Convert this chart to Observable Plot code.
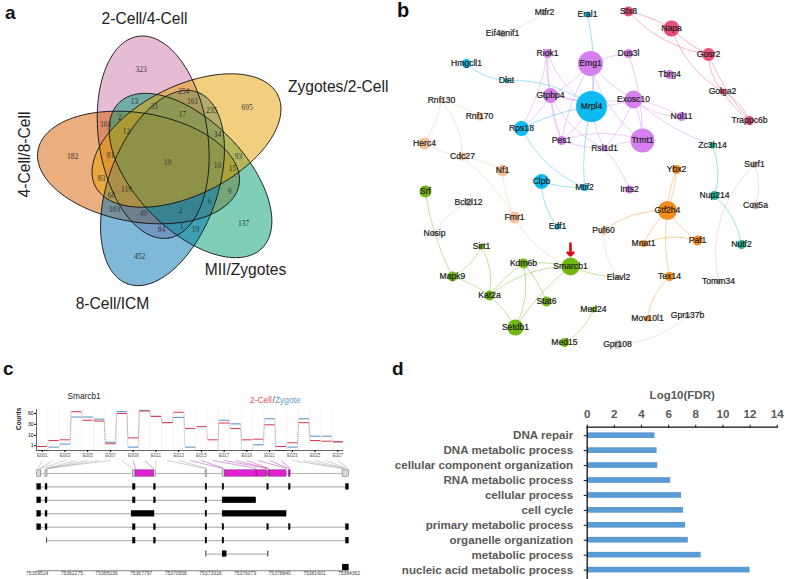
<!DOCTYPE html>
<html><head><meta charset="utf-8">
<script src="https://cdn.jsdelivr.net/npm/d3@7"></script>
<script src="https://cdn.jsdelivr.net/npm/@observablehq/plot@0.6"></script>
<style>
html,body{margin:0;padding:0;background:#fff}
#root{position:relative;width:785px;height:579px;overflow:hidden;font-family:"Liberation Sans",Arial,sans-serif}
#root>svg,#root>figure{position:absolute;margin:0}
.t{position:absolute;white-space:nowrap;line-height:1}
</style></head><body><div id="root"></div>
<script>
const FONT='"Liberation Sans",Arial,sans-serif';
// ---------- a: Venn ----------
const vennNames=["2-Cell/4-Cell","4-Cell/8-Cell","MII/Zygotes","8-Cell/ICM","Zygotes/2-Cell"];
const vennColors=["#cc79a7","#d55e00","#009e73","#0072b2","#e69f00"];
const vennCx=[152.7,138,190,162,186];
const vennCy=[136.7,167,175,187.5,140];
const vennA=[102,102,102,102,102];
const vennB=[54.5,54.5,54.5,54.5,54.5];
const vennTilt=[81.5,9.5,45.5,110,-26.5];
const vennCounts=["323","254","13","31","161","235","695","17","2","104","12","34","182","81","93","19","10","15","83","119","9","60","6","103","49","2","137","1","84","19","452"];
const vennCountX=[140.7,183,134,154,192,211,246.7,182,119,105,126,217,72,110,238,167,217,232,101,126,229,111,209,114,143,180,243,181,161,195,139];
const vennCountY=[69.3,90.7,101,106,100.7,110,107,114,117,124,131,134,156,155,156,162,165,168,178,189,191,195,201,209,213,210,223,226,229,229,256];
const vennLabelX=[144,24,245,112,337.7];
const vennLabelY=[18,154,269,303,86.7];
const vennLabelRot=[0,-90,0,0,0];
// ---------- b: network ----------
const nodeNames=["Mtfr2","Eif4enif1","Eral1","Stx8","Napa","Gosr2","Golga2","Trappc6b","Riok1","Emg1","Dus3l","Tbrg4","Hmgcll1","Dlat","Gtpbp4","Mrpl4","Exosc10","Nol11","Rnf130","Rnf170","Rps18","Pes1","Trmt1","Rsl1d1","Zc3h14","Herc4","Cdc27","Nf1","Ybx2","Surf1","Clpb","Mtif2","Ints2","Srf","Bcl2l12","Nup214","Cox5a","Gtf2h4","Fmr1","Edf1","Puf60","Nosip","Mnat1","Paf1","Nutf2","Sirt1","Kdm6b","Smarcb1","Mapk9","Elavl2","Tex14","Tomm34","Kat2a","Stat6","Med24","Gpr137b","Mov10l1","Setdb1","Med15","Gpr108"];
const nodeX=[544,502,587,628,671,708,722,749,547,590,628,669,466,506,550,591,633,681,441,479,521,561,642,604,712,424,462,502,676,754,541,584,629,425,468,714,755,667,514,557,603,434,643,697,741,481,523,570,452,618,669,718,489,546,593,687,647,515,564,617];
const nodeY=[12,33,14,11,28,54,91,120,53,63,53,74,63,80,95,106,99,116,100,116,128,140,140,148,145,143,156,170,169,164,181,187,189,191,202,195,205,210,217,226,230,233,243,240,244,246,263,266,276,277,276,281,295,301,309,315,318,327,342,344];
const nodeSize=[3,4,3,5,8,6.5,3,4.5,4.5,12.5,4.5,4.5,4.5,2.5,7.5,15.5,9,4.5,2.5,4,7.5,4.5,12,3,3,6,4,6,4.5,3.5,7.5,3.5,4,6,4,4.5,4,9.5,6,3,4,3,3.5,5,4.5,3,5,9,5,2.5,4.5,3,5,5,3,3,3,8,4.5,4.5];
const nodeModule=["grey","grey","cyan","red","red","red","red","red","purple","purple","purple","purple","cyan","cyan","purple","cyan","purple","purple","peach","peach","cyan","purple","purple","purple","teal","peach","peach","peach","orange","taupe","cyan","cyan","purple","green","grey","teal","taupe","orange","peach","cyan","peach","grey","orange","orange","teal","green","green","green","green","taupe","orange","taupe","green","green","green","grey","orange","green","green","grey"];
const moduleNames=["purple","cyan","red","peach","green","orange","teal","grey","taupe"];
const moduleColors=["#d580ee","#0cbcf0","#ea4f7a","#f3c49a","#70b810","#f58c1c","#1db8a0","#c8c8c8","#d0bcb8"];
const edgeList=[["Mtfr2","Eif4enif1",10],["Eral1","Mrpl4",10],["Stx8","Napa",10],["Stx8","Gosr2",-20],["Napa","Gosr2",-10],["Napa","Golga2",-20],["Gosr2","Golga2",-20],["Gosr2","Trappc6b",-10],["Golga2","Trappc6b",20],["Golga2","Trappc6b",-10],
["Hmgcll1","Dlat",-20],["Dlat","Mrpl4",20],["Riok1","Gtpbp4",-10],["Riok1","Mrpl4",-20],["Riok1","Pes1",-10],["Riok1","Rps18",10],["Emg1","Gtpbp4",10],["Emg1","Mrpl4",10],["Emg1","Exosc10",-10],["Emg1","Pes1",-10],["Emg1","Trmt1",-20],["Emg1","Dus3l",10],["Dus3l","Trmt1",10],
["Exosc10","Mrpl4",10],["Exosc10","Nol11",-20],["Exosc10","Nol11",10],["Exosc10","Trmt1",10],["Exosc10","Gtpbp4",10],["Exosc10","Rsl1d1",10],["Gtpbp4","Pes1",-10],["Gtpbp4","Rsl1d1",-20],["Gtpbp4","Mrpl4",10],["Pes1","Rsl1d1",-10],["Pes1","Trmt1",20],["Pes1","Mrpl4",-10],["Rsl1d1","Mrpl4",10],["Rsl1d1","Trmt1",10],["Rsl1d1","Ints2",10],
["Rps18","Mrpl4",10],["Gtpbp4","Rps18",10],["Rps18","Mtif2",-20],["Mrpl4","Mtif2",-10],["Clpb","Mtif2",-10],["Clpb","Edf1",-20],["Exosc10","Zc3h14",-10],["Zc3h14","Nup214",20],["Nup214","Nutf2",20],
["Rnf130","Rnf170",10],["Rnf130","Herc4",10],["Rnf130","Cdc27",20],["Herc4","Cdc27",-10],["Cdc27","Nf1",10],["Cdc27","Fmr1",10],["Nf1","Fmr1",-10],["Fmr1","Smarcb1",-20],
["Ybx2","Gtf2h4",-10],["Ybx2","Gtf2h4",10],["Gtf2h4","Mnat1",-10],["Gtf2h4","Paf1",-10],["Mnat1","Paf1",20],["Gtf2h4","Tex14",-10],["Gtf2h4","Puf60",-20],["Puf60","Elavl2",-20],["Tex14","Mov10l1",-20],
["Srf","Mapk9",-10],["Mapk9","Kat2a",10],["Bcl2l12","Nosip",-20],["Sirt1","Mapk9",20],["Sirt1","Kat2a",20],["Kat2a","Kdm6b",10],["Kat2a","Smarcb1",20],["Kat2a","Setdb1",10],["Kdm6b","Setdb1",20],["Kdm6b","Smarcb1",10],["Smarcb1","Setdb1",-10],["Kdm6b","Stat6",10],["Smarcb1","Elavl2",-10],["Med24","Med15",20],["Gpr137b","Gpr108",20],["Surf1","Cox5a",20],["Surf1","Tomm34",-30]];
const bendValues=[-30,-20,-10,10,20];
// ---------- c: exon counts ----------
const exonIndex=d3.range(1,28);
const count2Cell=[0.7,4.4,5,65.8,40,38,2,60,7,69,51,34,64,21,25,5,33,21,5,5.6,29,0.7,2.6,34,4.4,3.8,3.3];
const countZygote=[0,0.5,1.8,49,49,43,3,66,0.5,69,51,34,48,0.5,0,0,40,31,0,1.4,44,0,0.5,44,9,9,3.3];
const countTicks=[1,10,30,60];
const genomeStart=75359514, genomeEnd=75384362;
const genomeTicks=[75359514,75362275,75365036,75367797,75370558,75373318,75376079,75378840,75381601,75384362];
// exon edges, bp after genomeStart
const xA=[0,319],xB=[664,824],xC=[7626,7838],xD=[9300,9459],xE=[13418,13551],xF=[14773,14906],xG=[18333,18466],xH=[20060,20193],xI=[24603,24848];
const transcripts=[
 [xA,xB,xC,xD,xE,xF,xG,xH,xI],
 [xA,xB,xC,xD,xE,[14773,17456]],
 [xA,xB,[7520,9350],xE,[14773,19874]],
 [xA,xB,xC,xD,xE,xF,xG,xH,xI],
 [[770,810],xC,xD,xE,xF,xI],
 [[13470,13500],[14773,15100],[18400,18440]],
 [[24340,24848]]];
const modelGrey=[xA,xB,[7626,7838],[9300,9459],xE,[14773,14960],[24340,24848]];
const modelPink=[[7838,9300],[14960,18333],[18466,19874],[20060,20193]];
const modelDark=[17456,18333,18466,20100];
const exonTarget=[80,200,319,690,740,790,824,7626,7838,9300,9459,13418,13530,14800,14930,17456,18333,18420,18466,19874,20060,20193,24340,24440,24550,24650,24800];
const pinkExons=[9,10,14,15,16,17,18,19,20,21,22];
// ---------- d: enrichment ----------
const goTerms=["DNA repair","DNA metabolic process","cellular component organization","RNA metabolic process","cellular process","cell cycle","primary metabolic process","organelle organization","metabolic process","nucleic acid metabolic process"];
const goValues=[5.0,5.15,5.2,6.15,6.95,7.1,7.25,7.45,8.4,12];
const goTicks=[0,2,4,6,8,10,12,14];

const root=document.getElementById("root");
function mount(p,l,t){p.style.left=l+"px";p.style.top=t+"px";p.style.position="absolute";root.appendChild(p);}
function html(txt,x,y,css){const d=document.createElement("div");d.className="t";d.textContent=txt;d.style.cssText=`left:${x}px;top:${y}px;`+css;root.appendChild(d);}
const base={style:{background:"transparent",fontFamily:FONT,overflow:"visible"}};

// a
const ellipse=i=>d3.range(0,121).map(k=>{const t=k/120*2*Math.PI,th=vennTilt[i]*Math.PI/180,u=vennA[i]*Math.cos(t),v=vennB[i]*Math.sin(t);
 return {name:vennNames[i],x:vennCx[i]+u*Math.cos(th)-v*Math.sin(th),y:vennCy[i]+u*Math.sin(th)+v*Math.cos(th)};});
mount(Plot.plot({...base,width:390,height:330,margin:0,x:{domain:[0,390],axis:null},y:{domain:[330,0],axis:null},
 color:{domain:vennNames,range:vennColors},
 marks:[
  ...vennNames.map((n,i)=>Plot.line(ellipse(i),{x:"x",y:"y",fill:"name",fillOpacity:0.5,stroke:"none"})),
  ...vennNames.map((n,i)=>Plot.line(ellipse(i),{x:"x",y:"y",stroke:"#111",strokeWidth:0.9})),
  Plot.text(vennCounts,{x:(d,i)=>vennCountX[i],y:(d,i)=>vennCountY[i],text:d=>d,fontFamily:"Liberation Serif",fontSize:7.5,fill:"#333"}),
  ...vennNames.map((n,i)=>Plot.text([n],{x:()=>vennLabelX[i],y:()=>vennLabelY[i],text:d=>d,rotate:vennLabelRot[i],fontSize:15.6,fill:"#222"}))
 ]}),0,0);

// b
const nodes=nodeNames.map((n,i)=>({name:n,x:nodeX[i],y:nodeY[i],r:nodeSize[i],m:nodeModule[i]}));
const byName=new Map(nodes.map(d=>[d.name,d]));
const edges=edgeList.map(([a,b,c])=>({a:byName.get(a),b:byName.get(b),bend:c}));
mount(Plot.plot({...base,width:395,height:360,margin:0,x:{domain:[390,785],axis:null},y:{domain:[360,0],axis:null},
 r:{type:"identity"},color:{domain:moduleNames,range:moduleColors},
 marks:[
  ...bendValues.map(v=>Plot.arrow(edges.filter(e=>e.bend===v),{x1:d=>d.a.x,y1:d=>d.a.y,x2:d=>d.b.x,y2:d=>d.b.y,stroke:d=>d.a.m,bend:v,headLength:0,strokeWidth:0.7,strokeOpacity:0.6})),
  Plot.dot(nodes,{x:"x",y:"y",r:"r",fill:"m"}),
  Plot.text(nodes,{x:"x",y:"y",text:"name",fontSize:8.6,fill:"#1a1a1a",stroke:"#1a1a1a",strokeWidth:0.2}),
  Plot.arrow([{x1:570,y1:243,x2:570,y2:255}],{x1:"x1",y1:"y1",x2:"x2",y2:"y2",stroke:"#e30613",strokeWidth:2.6,headLength:7,headAngle:90})
 ]}),390,0);

// c counts
const rows=exonIndex.map((e,i)=>({e,a:count2Cell[i],b:countZygote[i]}));
const conn=rows.slice(1).map((d,i)=>({e:d.e,a0:rows[i].a,a1:d.a,b0:rows[i].b,b1:d.b}));
mount(Plot.plot({...base,width:360,height:55,marginLeft:36,marginRight:17,marginTop:4,marginBottom:10,
 x:{domain:[0.5,27.5],axis:null},y:{type:"sqrt",domain:[0,73.6],axis:null},
 marks:[
  Plot.ruleX(conn,{x:d=>d.e-0.5,stroke:"#f0e4e4",strokeWidth:0.5}),
  Plot.link(conn,{x1:d=>d.e-0.55,x2:d=>d.e-0.45,y1:"b0",y2:"b1",stroke:"#6da3c9",strokeWidth:0.6,strokeDasharray:"1,1"}),
  Plot.link(conn,{x1:d=>d.e-0.55,x2:d=>d.e-0.45,y1:"a0",y2:"a1",stroke:"#d9606e",strokeWidth:0.6,strokeDasharray:"1,1"}),
  Plot.link(rows,{x1:d=>d.e-0.44,x2:d=>d.e+0.44,y1:"b",y2:"b",stroke:"#4f8fc0",strokeWidth:1}),
  Plot.link(rows,{x1:d=>d.e-0.44,x2:d=>d.e+0.44,y1:"a",y2:"a",stroke:"#e03448",strokeWidth:1}),
  Plot.ruleY([0],{stroke:"#222",strokeWidth:0.7}),
  Plot.ruleX([0.5],{stroke:"#222",strokeWidth:0.7}),
  Plot.axisY({ticks:countTicks,tickSize:2,tickPadding:1,fontSize:5,label:null,tickFormat:d=>d,anchor:"left"}),
  Plot.axisX({ticks:exonIndex.filter(e=>e%2),tickSize:2,tickPadding:1,fontSize:4.5,label:null,anchor:"bottom",fill:"#555",tickFormat:e=>"E"+String(e).padStart(3,"0")}),
  Plot.text(["Counts"],{frameAnchor:"left",dx:-18,rotate:-90,text:d=>d,fontWeight:"bold",fontSize:6.5,fill:"#222"})
 ]}),0,405);
html("Smarcb1",67.5,392,"font-size:8.3px;color:#222");
html("2-Cell",250,396,"font-size:8.4px;color:#e0505f");
html("/",272.6,396,"font-size:8.4px;color:#333");
html("Zygote",275,396,"font-size:8.4px;color:#5b9bc8");

// c gene model
const g=o=>genomeStart+o;
const pxToG=px=>genomeStart+(px-36.7)/311.8*(genomeEnd-genomeStart);
const trackExons=transcripts.flatMap((t,k)=>t.map(e=>({row:k+1,x1:g(e[0]),x2:g(e[1]),thin:(e[1]-e[0])<60||(k===5&&e[0]!==14773)})));
const trackLines=transcripts.slice(0,6).map((t,k)=>({row:k+1,x1:g(t[0][0]),x2:g(t[t.length-1][1])}));
const connectors=exonIndex.map((e,i)=>({e,x1:pxToG(36+(e-0.5)*11.37),x2:g(exonTarget[i]),pink:pinkExons.includes(e)}));
mount(Plot.plot({...base,width:360,height:124,marginLeft:36.7,marginRight:11.5,marginTop:0,marginBottom:10,
 x:{domain:[genomeStart,genomeEnd],axis:null},y:{domain:[0,7],range:[18,112],axis:null},
 marks:[
  Plot.link(connectors.filter(d=>!d.pink),{x1:"x1",x2:"x2",y1:-0.97,y2:-0.37,stroke:"#a0a0a0",strokeWidth:0.5}),
  Plot.link(connectors.filter(d=>d.pink),{x1:"x1",x2:"x2",y1:-0.97,y2:-0.37,stroke:"#b23ab2",strokeWidth:0.5}),
  Plot.ruleY([0],{x1:g(0),x2:g(24848),stroke:"#888",strokeWidth:0.6}),
  Plot.rect(modelGrey,{x1:d=>g(d[0]),x2:d=>g(d[1]),y1:-0.24,y2:0.24,fill:"#d8d8d8",stroke:"#777",strokeWidth:0.6}),
  Plot.rect(modelPink,{x1:d=>g(d[0]),x2:d=>g(d[1]),y1:-0.24,y2:0.24,fill:"#e020d0",stroke:"#7a2a7a",strokeWidth:0.5}),
  Plot.ruleX(modelDark,{x:d=>g(d),y1:-0.24,y2:0.24,stroke:"#5a1a5a",strokeWidth:0.7}),
  Plot.ruleY(trackLines,{y:"row",x1:"x1",x2:"x2",stroke:"#666",strokeWidth:0.6}),
  Plot.rect(trackExons,{x1:"x1",x2:"x2",y1:d=>d.row-(d.thin?0.2:0.22),y2:d=>d.row+(d.thin?0.2:0.22),fill:"#000",stroke:d=>d.thin?"#333":"#000",strokeWidth:0.3}),
  Plot.ruleY([7.24],{stroke:"#333",strokeWidth:0.6}),
  Plot.axisX({ticks:genomeTicks,tickSize:0,tickPadding:1.5,fontSize:5,label:null,tickFormat:d=>String(d),fill:"#444",anchor:"bottom"})
 ]}),0,455);

// d
mount(Plot.plot({...base,width:395,height:199,marginLeft:196.7,marginRight:8.3,marginTop:46.7,marginBottom:0.5,
 x:{domain:[0,14],axis:null},y:{domain:goTerms,padding:0.62,align:0.5,round:false,range:[43.1,201.7],axis:null},
 marks:[
  Plot.barX(goTerms,{y:d=>d,x:(d,i)=>goValues[i],fill:"#5b9bd5"}),
  Plot.frame({anchor:"top",stroke:"#111",strokeWidth:1.3}),
  Plot.frame({anchor:"left",stroke:"#111",strokeWidth:1.3}),
  Plot.axisX({anchor:"top",ticks:goTicks,tickSize:3,tickPadding:6.5,fontSize:11.6,fontWeight:"bold",fill:"#595959",stroke:"#111",label:null,tickFormat:d=>d}),
  Plot.axisY({anchor:"left",tickSize:3,tickPadding:11,fontSize:11.6,fontWeight:"bold",fill:"#595959",stroke:"#111",label:null}),
  Plot.text(["Log10(FDR)"],{frameAnchor:"top",dy:-36,text:d=>d,fontSize:11.5,fontWeight:"bold",fill:"#595959"})
 ]}),390,380);

html("a",5,3,"font-size:19px;font-weight:bold;color:#111");
html("b",397,0,"font-size:20px;font-weight:bold;color:#111");
html("c",3,359,"font-size:19px;font-weight:bold;color:#111");
html("d",392,359,"font-size:19px;font-weight:bold;color:#111");
</script></body></html>
